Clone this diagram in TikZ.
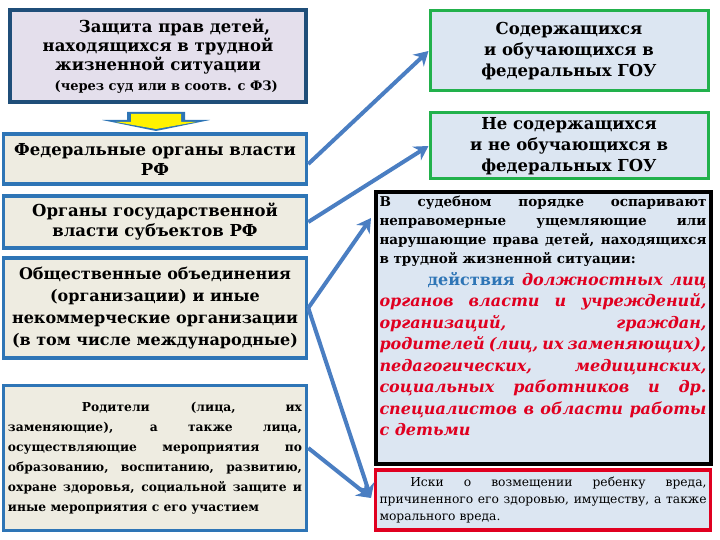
\documentclass[tikz,border=0pt]{standalone}
\usepackage{fontspec}
\setmainfont{DejaVu Serif}
\usetikzlibrary{arrows.meta}
\definecolor{bord}{HTML}{2E75B6}
\definecolor{dbord}{HTML}{1F4E79}
\definecolor{beig}{HTML}{EEECE1}
\definecolor{lav}{HTML}{E4DFEC}
\definecolor{lblue}{HTML}{DCE6F2}
\definecolor{grn}{HTML}{22B14C}
\definecolor{arr}{HTML}{4A7EC2}
\definecolor{rd}{HTML}{E00020}
\tikzset{
 lbox/.style={draw=bord,line width=3.5pt,fill=beig,inner sep=1pt,font=\bfseries\fontsize{16.5}{20}\selectfont,align=center},
 gbox/.style={draw=grn,line width=3pt,fill=lblue,font=\bfseries\fontsize{16.5}{21}\selectfont,align=center},
 con/.style={arr,line width=4pt,-{Stealth[length=14pt,width=16pt]}},
 x=1pt,y=-1pt
}
\begin{document}
\begin{tikzpicture}
\useasboundingbox (0,0) rectangle (720,540);
\node[draw=dbord,line width=4pt,fill=lav,minimum width=296pt,minimum height=92pt,align=center,inner sep=0pt,font=\bfseries\fontsize{16.5}{19}\selectfont] (top) at (158,56)
 {\hspace*{2em}Защита прав детей,\\ находящихся в трудной\\ жизненной ситуации\\[1pt] \hspace*{1em}{\fontsize{13}{14}\selectfont(через суд или в соотв. с ФЗ)}};
\fill[bord] (127,112) -- (185,112) -- (185,120) -- (210,120) -- (156,131) -- (102,120) -- (127,120) -- cycle;
\fill[yellow] (131,114) -- (181,114) -- (181,122) -- (196,122) -- (156,129) -- (116,122) -- (131,122) -- cycle;
\node[lbox,minimum width=303pt,minimum height=50pt] (fed) at (155,159) {Федеральные органы власти\\ РФ};
\node[lbox,minimum width=303pt,minimum height=52pt] (reg) at (155,222) {Органы государственной\\ власти субъектов РФ};
\node[lbox,minimum width=303pt,minimum height=100pt,font=\bfseries\fontsize{16}{22}\selectfont] (pub) at (155,308) {Общественные объединения\\ (организации) и иные\\ некоммерческие организации\\ (в том числе международные)};
\node[lbox,minimum width=303pt,minimum height=145pt,text width=294pt,align=justify,font=\bfseries\fontsize{12.3}{20}\selectfont] (par) at (155,458)
 {\hspace*{6em}Родители (лица, их заменяющие), а также лица, осуществляющие мероприятия по образованию, воспитанию, развитию, охране здоровья, социальной защите и иные мероприятия с его участием};
\node[gbox,minimum width=278pt,minimum height=80pt] (g1) at (569,51) {Содержащихся\\ и обучающихся в\\ федеральных ГОУ};
\node[gbox,minimum width=278pt,minimum height=66pt] (g2) at (569,146) {Не содержащихся\\ и не обучающихся в\\ федеральных ГОУ};
\node[draw=black,line width=4pt,fill=lblue,minimum width=335pt,minimum height=272pt] (blk) at (543,328) {};
\node[text width=327pt,align=justify,inner sep=0pt,anchor=north] (blkt) at (543,196)
 {\bfseries\fontsize{13.5}{19}\selectfont В судебном порядке оспаривают неправомерные ущемляющие или нарушающие права детей, находящихся в трудной жизненной ситуации:\par
 \fontsize{16}{21.5}\selectfont\hspace*{3em}{\color{bord}действия} {\color{rd}\itshape должностных лиц органов власти и учреждений, организаций, граждан, родителей (лиц, их заменяющих), педагогических, медицинских, социальных работников и др. специалистов в области работы с детьми}\par};
\node[draw=rd,line width=3.5pt,fill=lblue,minimum width=335pt,minimum height=60pt,text width=327pt,align=justify,inner sep=3pt,font=\fontsize{12.3}{17}\selectfont] (red) at (543,500)
 {\hspace*{2.5em}Иски о возмещении ребенку вреда, причиненного его здоровью, имуществу, а также морального вреда.};
\draw[con] (fed.east) ++(0,5) -- (g1.west);
\draw[con] (reg.east) -- (g2.west);
\draw[con] (pub.east) -- (371,218);
\draw[con] (pub.east) -- (371,498);
\draw[con] (par.east) ++(0,-10) -- (371,498);
\end{tikzpicture}
\end{document}
